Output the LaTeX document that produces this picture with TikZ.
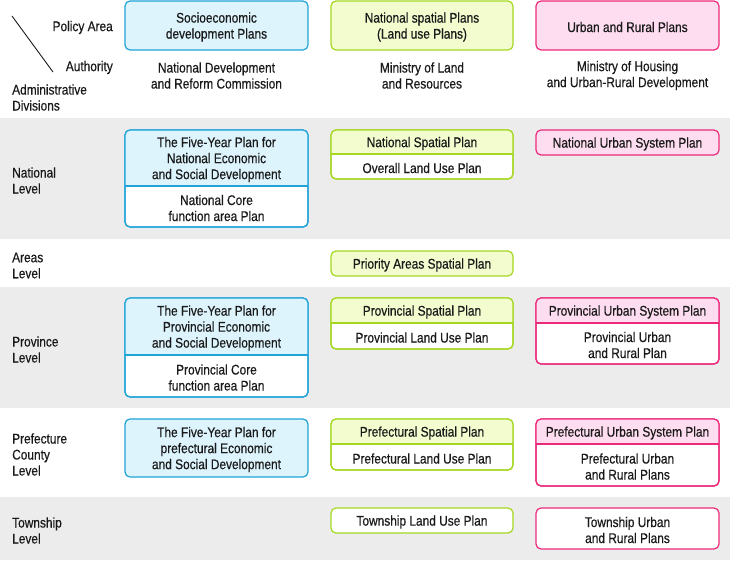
\documentclass[tikz,border=0pt]{standalone}
\usepackage{fontspec}
\setmainfont{Liberation Sans}[FakeStretch=0.85, FakeBold=0.5]
\definecolor{bandgray}{HTML}{ECECEC}
\definecolor{bluefill}{HTML}{DDF4FD}
\definecolor{blueline}{HTML}{1FA3D8}
\definecolor{greenfill}{HTML}{F2FCCE}
\definecolor{greenline}{HTML}{A5D721}
\definecolor{pinkfill}{HTML}{FFDDF0}
\definecolor{pinkline}{HTML}{EC2A7A}
\definecolor{ink}{HTML}{1A1A1A}
\tikzset{
  lbl/.style={align=center, inner sep=0pt, text=ink, yshift=-1.5pt, font=\fontsize{14}{16}\selectfont},
  rowlbl/.style={align=left, anchor=west, inner sep=0pt, text=ink, yshift=-1.5pt, font=\fontsize{14}{16}\selectfont},
  boxline/.style={line width=1.2pt, rounded corners=5pt},
}
% single box: name, x1, y1, x2, y2, line colour, fill colour, text
\newcommand\onebox[8]{%
  \node[boxline, draw=#6, fill=#7, minimum width={(#4-#2)*1pt}, minimum height={(#5-#3)*1pt}, inner sep=0pt] (#1) at ({(#2+#4)/2},{(#3+#5)/2}) {};
  \node[lbl] (#1t) at (#1.center) {#8};
}
% split box: name, x1, y1, x2, ydiv, y2, colour prefix, top text, bottom text
\newcommand\twobox[9]{%
  \node[boxline, draw=#7line, fill=white, minimum width={(#4-#2)*1pt}, minimum height={(#6-#3)*1pt}, inner sep=0pt] (#1) at ({(#2+#4)/2},{(#3+#6)/2}) {};
  \begin{scope}
    \clip[rounded corners=5pt] (#2,#3) rectangle (#4,#6);
    \fill[#7fill] (#2,#3) rectangle (#4,#5);
  \end{scope}
  \draw[#7line, line width=1.2pt] (#2,#5) -- (#4,#5);
  \draw[boxline, draw=#7line] (#2,#3) rectangle (#4,#6);
  \node[lbl] (#1t) at ({(#2+#4)/2},{(#3+#5)/2}) {#8};
  \node[lbl] (#1b) at ({(#2+#4)/2},{(#5+#6)/2}) {#9};
}
\begin{document}
\begin{tikzpicture}[x=1pt, y=-1pt]
\useasboundingbox (0,0) rectangle (730,560);
% bands
\fill[bandgray] (0,118) rectangle (730,239);
\fill[bandgray] (0,287) rectangle (730,408);
\fill[bandgray] (0,497) rectangle (730,560);

% header corner
\coordinate (d1) at (12,16);
\coordinate (d2) at (53,72);
\draw[ink, line width=0.9pt] (d1) -- (d2);
\node[lbl, anchor=east] (policy) at (113,26) {Policy Area};
\node[lbl, anchor=east] (authority) at (113,66) {Authority};
\node[rowlbl] (admin) at (12,96) {Administrative\\Divisions};

% header boxes
\onebox{h1}{125}{1}{308}{50}{blueline}{bluefill}{Socioeconomic\\development Plans}
\onebox{h2}{331}{1}{513}{50}{greenline}{greenfill}{National spatial Plans\\(Land use Plans)}
\onebox{h3}{536}{1}{719}{50}{pinkline}{pinkfill}{Urban and Rural Plans}
\node[lbl] (a1) at (216.5,74) {National Development\\and Reform Commission};
\node[lbl] (a2) at (422,74) {Ministry of Land\\and Resources};
\node[lbl] (a3) at (627.5,74) {Ministry of Housing\\and Urban-Rural Development};

% row labels
\node[rowlbl] (rnat) at (12,179) {National\\Level};
\node[rowlbl] (rarea) at (12,264) {Areas\\Level};
\node[rowlbl] (rprov) at (12,348) {Province\\Level};
\node[rowlbl] (rpref) at (12,453) {Prefecture\\County\\Level};
\node[rowlbl] (rtown) at (12,529) {Township\\Level};

% national
\twobox{n1}{125}{130}{308}{186}{227}{blue}{The Five-Year Plan for\\National Economic\\and Social Development}{National Core\\function area Plan}
\twobox{n2}{331}{130}{513}{154}{179}{green}{National Spatial Plan}{Overall Land Use Plan}
\onebox{n3}{536}{130}{719}{155}{pinkline}{pinkfill}{National Urban System Plan}

% areas
\onebox{ar2}{331}{251}{513}{276}{greenline}{greenfill}{Priority Areas Spatial Plan}

% province
\twobox{p1}{125}{298}{308}{355}{397}{blue}{The Five-Year Plan for\\Provincial Economic\\and Social Development}{Provincial Core\\function area Plan}
\twobox{p2}{331}{298}{513}{323}{349}{green}{Provincial Spatial Plan}{Provincial Land Use Plan}
\twobox{p3}{536}{298}{719}{323}{364}{pink}{Provincial Urban System Plan}{Provincial Urban\\and Rural Plan}

% prefecture
\onebox{f1}{125}{419}{308}{477}{blueline}{bluefill}{The Five-Year Plan for\\prefectural Economic\\and Social Development}
\twobox{f2}{331}{419}{513}{444}{470}{green}{Prefectural Spatial Plan}{Prefectural Land Use Plan}
\twobox{f3}{536}{419}{719}{444}{486}{pink}{Prefectural Urban System Plan}{Prefectural Urban\\and Rural Plans}

% township
\onebox{t2}{331}{508}{513}{533}{greenline}{white}{Township Land Use Plan}
\onebox{t3}{536}{508}{719}{549}{pinkline}{white}{Township Urban\\and Rural Plans}
\end{tikzpicture}
\end{document}
